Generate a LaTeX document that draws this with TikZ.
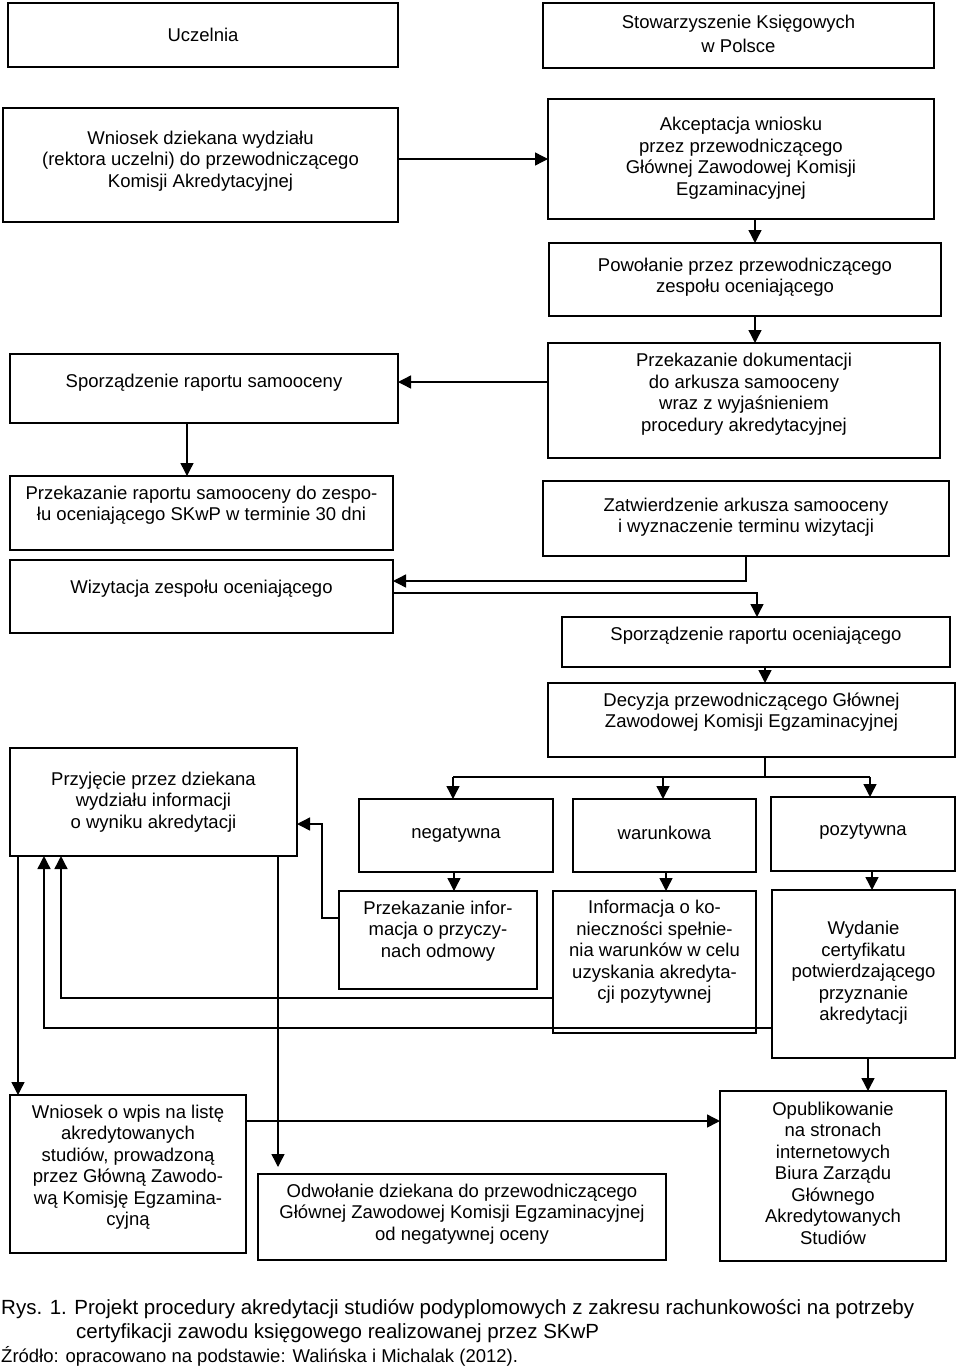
\documentclass[tikz,border=0pt]{standalone}
\usepackage{fontspec}
\setmainfont{Liberation Sans}
\usetikzlibrary{arrows.meta}
\newcommand{\bx}[7]{%
  \node[box, minimum width={#4-#2}, minimum height={#5-#3}] (#1) at ({(#2+#4)/2},{(#3+#5)/2}) {};
  \node[txt] (#1t) at ({(#2+#4)/2},#6) {#7};}
\tikzset{
  box/.style={draw=black, line width=1.6pt, inner sep=0pt, outer sep=0pt, fill=white},
  txt/.style={align=center, inner sep=0pt},
  conn/.style={line width=1.4pt, draw=black},
  arr/.style={conn, -{Triangle[length=13pt,width=13pt]}},
}
\begin{document}
\begin{tikzpicture}[x=1pt, y=-1pt, font=\fontsize{18.5}{21.5}\selectfont]
\useasboundingbox (0,0) rectangle (960,1367);
\fill[white] (0,0) rectangle (960,1367);

\bx{A}{8}{3}{398}{67}{35}{Uczelnia}
\bx{B}{543}{3}{934}{68}{34}{Stowarzyszenie Księgowych\\[2pt]w Polsce}
\bx{C}{3}{108}{398}{222}{161}{Wniosek dziekana wydziału\\(rektora uczelni) do przewodniczącego\\Komisji Akredytacyjnej}
\bx{D}{548}{99}{934}{219}{158}{Akceptacja wniosku\\przez przewodniczącego\\Głównej Zawodowej Komisji\\Egzaminacyjnej}
\bx{E}{549}{243}{941}{316}{277}{Powołanie przez przewodniczącego\\zespołu oceniającego}
\bx{F}{548}{343}{940}{458}{394}{Przekazanie dokumentacji\\do arkusza samooceny\\wraz z wyjaśnieniem\\procedury akredytacyjnej}
\bx{G}{10}{354}{398}{423}{383}{Sporządzenie raportu samooceny}
\bx{H}{10}{476}{393}{550}{505}{Przekazanie raportu samooceny do zespo-\\łu oceniającego SKwP w terminie 30 dni}
\bx{I}{543}{481}{949}{556}{517}{Zatwierdzenie arkusza samooceny\\i wyznaczenie terminu wizytacji}
\bx{J}{10}{560}{393}{633}{589}{Wizytacja zespołu oceniającego}
\bx{K}{562}{617}{950}{667}{636}{Sporządzenie raportu oceniającego}
\bx{L}{548}{683}{955}{757}{712}{Decyzja przewodniczącego Głównej\\Zawodowej Komisji Egzaminacyjnej}
\bx{M}{10}{748}{297}{856}{802}{Przyjęcie przez dziekana\\wydziału informacji\\o wyniku akredytacji}
\bx{N}{359}{799}{553}{872}{834}{negatywna}
\bx{O}{573}{799}{756}{872}{833}{warunkowa}
\bx{P}{771}{797}{955}{871}{831}{pozytywna}
\bx{Q}{339}{891}{537}{989}{931}{Przekazanie infor-\\macja o przyczy-\\nach odmowy}
\bx{R}{553}{891}{756}{1033}{952}{Informacja o ko-\\nieczności spełnie-\\nia warunków w celu\\uzyskania akredyta-\\cji pozytywnej}
\bx{S}{772}{890}{955}{1058}{973}{Wydanie\\certyfikatu\\potwierdzającego\\przyznanie\\akredytacji}
\bx{T}{10}{1095}{246}{1253}{1167}{Wniosek o wpis na listę\\akredytowanych\\studiów, prowadzoną\\przez Główną Zawodo-\\wą Komisję Egzamina-\\cyjną}
\bx{U}{258}{1174}{666}{1260}{1214}{Odwołanie dziekana do przewodniczącego\\Głównej Zawodowej Komisji Egzaminacyjnej\\od negatywnej oceny}
\bx{V}{720}{1091}{946}{1261}{1173}{Opublikowanie\\na stronach\\internetowych\\Biura Zarządu\\Głównego\\Akredytowanych\\Studiów}

% connectors
\draw[arr] (C.east |- D.west) -- (D.west);
\draw[arr] (755,0 |- D.south) -- (755,0 |- E.north);
\draw[arr] (755,0 |- E.south) -- (755,0 |- F.north);
\draw[arr] (F.west |- 0,382) -- (G.east |- 0,382);
\draw[arr] (187,0 |- G.south) -- (187,0 |- H.north);
\draw[arr] (746,0 |- I.south) -- (746,581) -- (J.east |- 0,581);
\draw[arr] (J.east |- 0,593) -| (757,0 |- K.north);
\draw[arr] (765,0 |- K.south) -- (765,0 |- L.north);
\coordinate (split) at (765,777);
\draw[conn] (765,0 |- L.south) -- (split);
\draw[conn] (453,777) -- (870,777);
\draw[arr] (453,777) -- (453,0 |- N.north);
\draw[arr] (663,777) -- (663,0 |- O.north);
\draw[arr] (870,777) -- (870,0 |- P.north);
\draw[arr] (454,0 |- N.south) -- (454,0 |- Q.north);
\draw[arr] (666,0 |- O.south) -- (666,0 |- R.north);
\draw[arr] (872,0 |- P.south) -- (872,0 |- S.north);
\draw[arr] (Q.west |- 0,918) -- (322,918) -- (322,824) -- (M.east |- 0,824);
\draw[arr] (R.west |- 0,998) -- (61,998) -- (61,0 |- M.south);
\draw[arr] (S.west |- 0,1028) -- (44,1028) -- (44,0 |- M.south);
\draw[arr] (18,0 |- M.south) -- (18,0 |- T.north);
\draw[arr, shorten >=7pt] (278,0 |- M.south) -- (278,0 |- U.north);
\draw[arr] (T.east |- 0,1121) -- (V.west |- 0,1121);
\draw[arr] (868,0 |- S.south) -- (868,0 |- V.north);

% caption
\node[anchor=base west, inner sep=0pt, font=\fontsize{20.5}{24}\selectfont] (cap1) at (1,1314) {Rys. 1. Projekt procedury akredytacji studiów podyplomowych z zakresu rachunkowości na potrzeby};
\node[anchor=base west, inner sep=0pt, font=\fontsize{20.5}{24}\selectfont] (cap2) at (76,1338) {certyfikacji zawodu księgowego realizowanej przez SKwP};
\node[anchor=base west, inner sep=0pt, font=\fontsize{18.5}{21.5}\selectfont] (src) at (1,1362) {Źródło: opracowano na podstawie: Walińska i Michalak (2012).};
\end{tikzpicture}
\end{document}
